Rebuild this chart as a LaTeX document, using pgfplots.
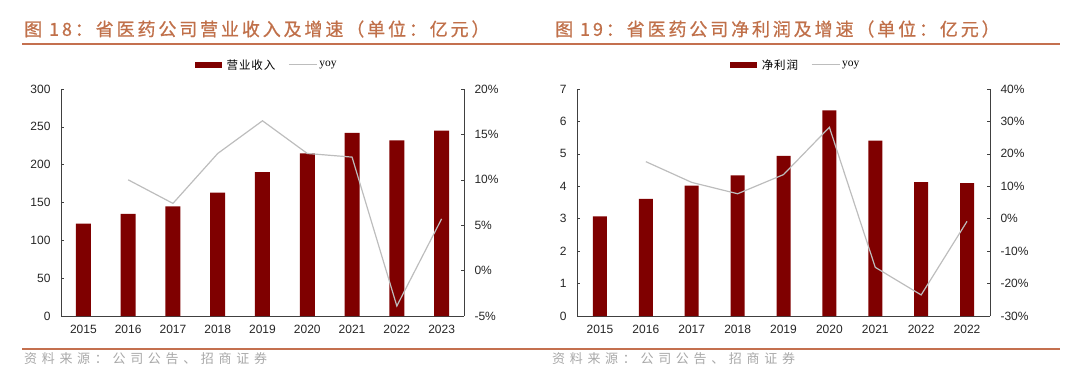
\documentclass[border=0pt]{standalone}
\usepackage{fontspec}
\setmainfont{Liberation Sans}
\newfontfamily\cjk{Noto Sans CJK SC}
\newfontfamily\cjktitle[LetterSpace=16,FakeBold=0.8]{Noto Sans CJK SC}
\newfontfamily\cjksrc[LetterSpace=36]{Noto Sans CJK SC}
\newfontfamily\cjkleg[LetterSpace=8]{Noto Sans CJK SC}
\newfontfamily\serif{Liberation Serif}
\usepackage{pgfplots}
\pgfplotsset{compat=1.18}
\definecolor{barred}{HTML}{7F0000}
\definecolor{yoygray}{HTML}{BDBDBD}
\definecolor{titlec}{HTML}{C0704A}
\definecolor{linec}{HTML}{C4704F}
\definecolor{srcgray}{HTML}{A8A8A8}
\definecolor{axisc}{HTML}{404040}
\definecolor{tickc}{HTML}{262626}

\pgfplotsset{
  base/.style={
    scale only axis, width=#1, height=227pt,
    xmin=-0.5, xmax=8.5,
    tick align=inside,
    major tick length=3pt, minor tick length=4pt,
    axis line style={axisc, line width=0.8pt},
    every tick/.style={axisc, line width=0.6pt},
    tick label style={font=\fontsize{12}{14}\selectfont, text=tickc},
    /pgf/number format/assume math mode=true,
  },
}

\begin{document}
\begin{tikzpicture}[x=1pt,y=1pt]
\path (0,0) rectangle (1080,381);

% titles
\node[anchor=west, text=titlec, font=\cjktitle\fontsize{18}{20}\selectfont, inner sep=0pt] at (24,352) {图 18：省医药公司营业收入及增速（单位：亿元）};
\node[anchor=west, text=titlec, font=\cjktitle\fontsize{18}{20}\selectfont, inner sep=0pt] at (555,352) {图 19：省医药公司净利润及增速（单位：亿元）};
\draw[linec, line width=2pt] (22,337) -- (1060,337);

% ---------- left chart ----------
\begin{axis}[base=403pt, at={(61pt,65pt)}, anchor=south west,
  ymin=0, ymax=300, ytick={0,50,...,300},
  axis y line*=left, axis x line*=bottom,
  xtick={0,...,8}, xticklabels={2015,2016,2017,2018,2019,2020,2021,2022,2023},
  minor xtick={0.5,1.5,...,7.5},
  xtick style={draw=none},
  minor x tick style={axisc, line width=0.6pt},
  yticklabel style={xshift=-7pt},
  xticklabel style={yshift=-6pt},
]
\addplot[ybar, bar width=15pt, fill=barred, draw=none] coordinates {
(0,122) (1,135) (2,145) (3,163) (4,190) (5,215) (6,242) (7,232) (8,245)};
\end{axis}
\begin{axis}[base=403pt, at={(61pt,65pt)}, anchor=south west,
  ymin=-5, ymax=20, ytick={-5,0,...,20},
  axis y line*=right, axis x line=none,
  yticklabel={\pgfmathprintnumber{\tick}\%},
  yticklabel style={xshift=7pt},
  legend style={at={(0.511,1.106)}, anchor=center, draw=none, fill=none,
    legend columns=2, font=\fontsize{11.5}{13}\selectfont,
    /tikz/every even column/.append style={column sep=11pt},
    nodes={inner xsep=2pt}},
]
\addlegendimage{legend image code/.code={\fill[barred] (0pt,-2.5pt) rectangle (26pt,2.5pt);}}
\addlegendentry{\hspace{3pt}\cjkleg 营业收入}
\addplot[yoygray, line width=1.2pt, mark=none,
  legend image code/.code={\draw[yoygray, line width=1pt] (0pt,0pt) -- (28pt,0pt);}]
  coordinates {(1,10.0) (2,7.4) (3,12.9) (4,16.5) (5,12.9) (6,12.5) (7,-3.9) (8,5.7)};
\addlegendentry{\serif yoy}
\end{axis}

% ---------- right chart ----------
\begin{axis}[base=413pt, at={(577pt,65pt)}, anchor=south west,
  ymin=0, ymax=7, ytick={0,1,...,7},
  axis y line*=left, axis x line*=bottom,
  xtick={0,...,8}, xticklabels={2015,2016,2017,2018,2019,2020,2021,2022,2022},
  minor xtick={0.5,1.5,...,7.5},
  xtick style={draw=none},
  minor x tick style={axisc, line width=0.6pt},
  yticklabel style={xshift=-7pt},
  xticklabel style={yshift=-6pt},
]
\addplot[ybar, bar width=14pt, fill=barred, draw=none] coordinates {
(0,3.07) (1,3.61) (2,4.02) (3,4.34) (4,4.94) (5,6.34) (6,5.41) (7,4.13) (8,4.10)};
\end{axis}
\begin{axis}[base=413pt, at={(577pt,65pt)}, anchor=south west,
  ymin=-30, ymax=40, ytick={-30,-20,...,40},
  axis y line*=right, axis x line=none,
  yticklabel={\pgfmathprintnumber{\tick}\%},
  yticklabel style={xshift=7pt},
  legend style={at={(0.53,1.106)}, anchor=center, draw=none, fill=none,
    legend columns=2, font=\fontsize{11.5}{13}\selectfont,
    /tikz/every even column/.append style={column sep=11pt},
    nodes={inner xsep=2pt}},
]
\addlegendimage{legend image code/.code={\fill[barred] (0pt,-2.5pt) rectangle (26pt,2.5pt);}}
\addlegendentry{\hspace{3pt}\cjkleg 净利润}
\addplot[yoygray, line width=1.2pt, mark=none,
  legend image code/.code={\draw[yoygray, line width=1pt] (0pt,0pt) -- (28pt,0pt);}]
  coordinates {(1,17.6) (2,11.2) (3,7.7) (4,13.6) (5,28.2) (6,-15.0) (7,-23.5) (8,-0.8)};
\addlegendentry{\serif yoy}
\end{axis}

% source
\draw[linec, line width=2pt] (22,32) -- (1060,32);
\node[anchor=west, text=srcgray, font=\cjksrc\fontsize{13}{15}\selectfont, inner sep=0pt] at (24,22) {资料来源：公司公告、招商证券};
\node[anchor=west, text=srcgray, font=\cjksrc\fontsize{13}{15}\selectfont, inner sep=0pt] at (552,22) {资料来源：公司公告、招商证券};
\end{tikzpicture}
\end{document}
